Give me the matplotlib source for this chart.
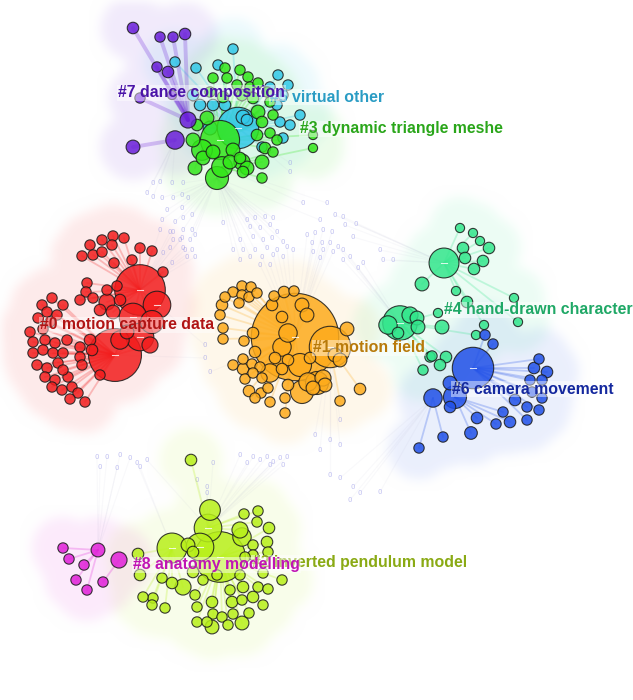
import numpy as np
import matplotlib
matplotlib.use("Agg")
import matplotlib.pyplot as plt
from matplotlib.patches import Circle

W, H = 633, 700

# -- cluster nodes: (x, y, radius) in canvas pixels -------------------------
nodes_0 = [  # motion capture data
    (140, 290, 22), (115, 355, 23), (157, 305, 12), (152, 322, 10), (133, 317, 12),
    (120, 340, 8), (140, 337, 12), (150, 345, 7), (107, 302, 7), (113, 312, 6),
    (90, 340, 5), (92, 350, 5), (127, 332, 6), (100, 310, 5), (120, 300, 5),
    (90, 245, 4.5), (102, 240, 4.5), (113, 236, 4.5), (124, 238, 4.5), (112, 245, 4.5),
    (82, 256, 4.5), (93, 255, 4.5), (102, 252, 4.5), (140, 248, 4.5), (152, 251, 4.5),
    (132, 260, 4.5), (114, 263, 4.5), (163, 272, 4.5), (87, 283, 4.5), (86, 292, 4.5),
    (107, 290, 4.5), (117, 286, 4.5), (80, 300, 4.5), (93, 298, 4.5), (52, 298, 4.5),
    (42, 305, 4.5), (63, 305, 4.5), (47, 312, 4.5), (57, 315, 4.5), (38, 318, 4.5),
    (50, 322, 4.5), (30, 332, 4.5), (43, 329, 4.5), (67, 340, 4.5), (33, 342, 4.5),
    (45, 340, 4.5), (55, 343, 4.5), (80, 347, 4.5), (33, 353, 4.5), (43, 350, 4.5),
    (53, 353, 4.5), (63, 353, 4.5), (80, 357, 4.5), (37, 365, 4.5), (47, 368, 4.5),
    (58, 363, 4.5), (82, 365, 4.5), (45, 377, 4.5), (55, 380, 4.5), (68, 377, 4.5),
    (63, 370, 4.5), (52, 387, 4.5), (62, 390, 4.5), (72, 387, 4.5), (78, 393, 4.5),
    (70, 399, 4.5), (85, 402, 4.5), (100, 375, 4.5),
]
nodes_1 = [  # motion field
    (295, 337, 38), (330, 347, 18), (302, 392, 10), (300, 365, 10), (270, 373, 8),
    (317, 383, 10), (282, 347, 8), (288, 333, 8), (308, 382, 8), (323, 378, 7),
    (335, 355, 6), (242, 286, 4.5), (251, 287, 4.5), (233, 292, 4.5), (225, 297, 4.5),
    (242, 295, 4.5), (249, 297, 4.5), (257, 293, 4.5), (239, 303, 4.5), (222, 305, 5),
    (220, 315, 4.5), (272, 305, 5), (274, 296, 4.5), (284, 292, 5), (294, 291, 4.5),
    (302, 305, 6), (307, 315, 6), (282, 317, 5), (223, 328, 4.5), (223, 339, 4.5),
    (253, 333, 5), (244, 341, 4.5), (347, 329, 6), (255, 352, 5), (243, 359, 4.5),
    (233, 365, 4.5), (243, 369, 5), (252, 364, 4.5), (260, 367, 4.5), (245, 379, 4.5),
    (253, 373, 4.5), (262, 378, 4.5), (275, 358, 5), (288, 360, 5), (282, 369, 5),
    (310, 358, 5), (340, 360, 6), (249, 391, 5), (261, 393, 4.5), (268, 388, 4.5),
    (255, 398, 4.5), (270, 402, 4.5), (285, 398, 4.5), (288, 385, 5), (325, 385, 6),
    (360, 389, 5), (340, 401, 4.5), (285, 413, 4.5), (313, 388, 6),
]
nodes_5 = [  # virtual other
    (238, 128, 18), (233, 49, 4.5), (196, 68, 4.5), (218, 65, 4.5), (175, 62, 4.5),
    (278, 75, 4.5), (288, 85, 4.5), (270, 87, 4.5), (283, 95, 4.5), (277, 105, 4.5),
    (300, 115, 4.5), (280, 122, 4.5), (290, 125, 4.5), (283, 138, 4.5), (262, 147, 4.5),
    (193, 95, 5), (200, 105, 5), (213, 105, 5), (225, 105, 5), (243, 117, 6),
    (247, 120, 5), (210, 128, 6),
]
nodes_3 = [  # dynamic triangle meshe
    (220, 140, 17), (217, 178, 10), (222, 167, 9), (202, 150, 9), (242, 162, 7),
    (247, 168, 6), (262, 162, 6), (195, 168, 6), (207, 118, 6), (258, 112, 6),
    (233, 150, 6), (225, 68, 4.5), (240, 70, 4.5), (213, 78, 4.5), (227, 78, 4.5),
    (248, 77, 4.5), (237, 85, 4.5), (250, 87, 4.5), (258, 83, 4.5), (267, 92, 4.5),
    (210, 92, 4.5), (223, 97, 5), (242, 95, 5), (253, 98, 5), (270, 102, 4.5),
    (273, 115, 4.5), (262, 122, 5), (270, 133, 4.5), (277, 140, 4.5), (257, 135, 5),
    (265, 148, 5), (273, 152, 4.5), (197, 125, 5), (193, 140, 6), (203, 158, 6),
    (213, 152, 6), (230, 162, 6), (240, 158, 5), (243, 172, 5), (262, 178, 4.5),
    (313, 148, 4), (313, 135, 4),
]
nodes_7 = [  # dance composition
    (188, 120, 7), (175, 140, 8), (133, 147, 6), (133, 28, 5), (160, 37, 4.5),
    (173, 37, 4.5), (185, 34, 5), (157, 67, 4.5), (168, 72, 5), (140, 98, 4.5),
    (172, 95, 4),
]
nodes_4 = [  # hand-drawn character
    (444, 263, 13), (400, 323, 15), (388, 325, 8), (417, 318, 6), (418, 327, 6),
    (398, 333, 5), (410, 315, 7), (422, 284, 6), (442, 327, 6), (460, 228, 4),
    (473, 233, 4), (480, 241, 4), (489, 248, 5), (463, 248, 5), (465, 258, 5),
    (483, 261, 5), (474, 269, 5), (456, 291, 4), (514, 298, 4), (467, 302, 5),
    (438, 313, 4), (518, 322, 4), (484, 325, 4), (476, 335, 4), (430, 357, 4.5),
    (446, 357, 5), (440, 365, 5), (423, 370, 4.5), (432, 356, 4.5),
]
nodes_6 = [  # camera movement
    (473, 368, 18), (433, 398, 8), (455, 397, 10), (450, 383, 6), (450, 407, 5),
    (485, 335, 4.5), (493, 344, 4.5), (539, 359, 4.5), (534, 368, 5), (547, 372, 5),
    (530, 380, 4.5), (542, 380, 4.5), (532, 392, 4.5), (542, 398, 4.5), (515, 400, 5),
    (527, 407, 4.5), (539, 410, 4.5), (503, 412, 4.5), (510, 422, 5), (527, 420, 4.5),
    (496, 424, 4.5), (477, 418, 5), (471, 433, 5.5), (443, 437, 4.5), (419, 448, 4.5),
]
nodes_2 = [  # inverted pendulum model
    (220, 557, 22), (172, 548, 13), (208, 528, 12), (200, 547, 12), (210, 510, 9),
    (240, 530, 7), (242, 537, 8), (188, 545, 6), (193, 552, 5), (183, 587, 7),
    (191, 460, 5), (244, 514, 4.5), (258, 511, 4.5), (257, 522, 4.5), (269, 528, 5),
    (267, 542, 5), (253, 545, 4.5), (268, 552, 4.5), (253, 555, 4.5), (245, 557, 4.5),
    (138, 554, 5), (140, 575, 5), (162, 578, 4.5), (172, 583, 5), (193, 572, 5),
    (203, 580, 4.5), (217, 575, 4.5), (240, 575, 4.5), (263, 573, 4.5), (282, 580, 4.5),
    (153, 598, 4.5), (143, 597, 4.5), (152, 605, 4.5), (165, 608, 4.5), (195, 595, 4.5),
    (212, 602, 5), (230, 590, 4.5), (243, 587, 5), (258, 587, 4.5), (268, 589, 4.5),
    (253, 597, 5), (232, 602, 5), (242, 600, 4.5), (263, 605, 4.5), (197, 607, 4.5),
    (213, 614, 4.5), (222, 617, 4.5), (233, 614, 4.5), (249, 613, 4.5), (197, 622, 4.5),
    (207, 622, 4.5), (212, 627, 6), (228, 625, 4.5), (242, 623, 6),
]
nodes_8 = [  # anatomy modelling
    (63, 548, 4.5), (98, 550, 6), (119, 560, 7), (69, 559, 4.5), (84, 565, 4.5),
    (76, 580, 4.5), (103, 582, 4.5), (87, 590, 4.5),
]

# -- unclustered background nodes (drawn as faint "0" labels) ---------------
bg_x = [153, 160, 172, 183, 147, 153, 162, 173, 182, 188, 167, 182, 162, 175, 183,
        192, 160, 173, 183, 192, 173, 182, 190, 170, 183, 192, 187, 195, 172, 163,
        247, 255, 265, 273, 250, 260, 270, 277, 240, 253, 263, 272, 283, 233, 243,
        255, 267, 277, 287, 293, 250, 262, 273, 283, 260, 270, 240, 223,
        307, 315, 323, 332, 312, 322, 330, 338, 313, 323, 333, 343, 320, 350, 353,
        343, 327, 303, 356, 358, 343, 380, 383, 363, 393, 290, 290,
        97, 107, 120, 130, 137, 147, 100, 117, 140, 240, 253, 260, 267, 273, 280,
        287, 247, 270, 283, 213, 330, 340, 353, 360, 380, 350, 197, 207, 207,
        170, 180, 195, 185, 205, 205, 210, 320, 335, 345, 315, 330, 320, 340, 340]
bg_y = [183, 182, 183, 183, 193, 197, 198, 198, 195, 198, 210, 208, 220, 222, 218,
        215, 230, 232, 230, 230, 240, 238, 240, 248, 248, 250, 257, 257, 263, 253,
        220, 218, 217, 218, 227, 228, 225, 232, 240, 237, 240, 238, 242, 250, 250,
        250, 248, 250, 247, 250, 257, 257, 255, 257, 265, 265, 260, 223,
        235, 233, 230, 232, 243, 243, 243, 247, 252, 250, 252, 250, 258, 257, 237,
        217, 203, 203, 224, 268, 260, 250, 260, 263, 260, 163, 172,
        457, 457, 455, 458, 463, 460, 467, 468, 467, 455, 457, 460, 457, 462, 458,
        457, 463, 465, 465, 463, 475, 478, 487, 493, 492, 500, 480, 487, 493,
        232, 240, 235, 250, 345, 358, 372, 220, 215, 225, 435, 440, 450, 445, 420]

colors = {
    0: "#f21d1d", 1: "#fdab1c", 2: "#b8f01a", 3: "#33e61a", 4: "#33e68c",
    5: "#33c8e8", 6: "#2050e8", 7: "#6a1fd8", 8: "#e020d8",
}
label_colors = {
    0: "#b01414", 1: "#b87a0a", 2: "#8aaa14", 3: "#2aa61a", 4: "#1fa866",
    5: "#2a9cc4", 6: "#14289e", 7: "#4a14a8", 8: "#c014b4",
}
labels = {
    0: "#0 motion capture data", 1: "#1 motion field", 2: "#2 inverted pendulum model",
    3: "#3 dynamic triangle meshe", 4: "#4 hand-drawn character", 5: "#5 virtual other",
    6: "#6 camera movement", 7: "#7 dance composition", 8: "#8 anatomy modelling",
}
label_pos = {
    0: (40, 325), 1: (313, 348), 2: (252, 563), 3: (300, 129), 4: (444, 310),
    5: (270, 97), 6: (452, 389), 7: (118, 93), 8: (133, 565),
}
clusters = {0: nodes_0, 1: nodes_1, 5: nodes_5, 3: nodes_3, 7: nodes_7,
            4: nodes_4, 6: nodes_6, 2: nodes_2, 8: nodes_8}
hub_min = {0: 20, 1: 17, 2: 11, 3: 9, 4: 12, 5: 17, 6: 7, 7: 7, 8: 6}
node_scale = 1.15


def blur(a, k):
    kern = np.ones(2 * k + 1) / (2 * k + 1)
    for _ in range(2):
        a = np.apply_along_axis(lambda v: np.convolve(v, kern, mode="same"), 0, a)
        a = np.apply_along_axis(lambda v: np.convolve(v, kern, mode="same"), 1, a)
    return a


# -- soft cluster areas (union of padded discs) ------------------------------
yy, xx = np.mgrid[0:H, 0:W] + 0.5
img = np.ones((H, W, 3))
pad = 27
for cid in [0, 1, 5, 3, 7, 4, 6, 2, 8]:
    mask = np.zeros((H, W))
    for x, y, r in clusters[cid]:
        rr = r + pad
        x0, x1 = max(int(x - rr), 0), min(int(x + rr) + 2, W)
        y0, y1 = max(int(y - rr), 0), min(int(y + rr) + 2, H)
        d = np.hypot(xx[y0:y1, x0:x1] - x, yy[y0:y1, x0:x1] - y)
        mask[y0:y1, x0:x1] = np.maximum(mask[y0:y1, x0:x1], (d <= rr).astype(float))
    mask = blur(mask, 6)
    rgb = np.array(matplotlib.colors.to_rgb(colors[cid]))
    a = (0.09 * mask)[..., None]
    img = img * (1 - a) + rgb * a

fig = plt.figure(figsize=(W / 100, H / 100), dpi=100)
ax = fig.add_axes([0, 0, 1, 1])
ax.set_xlim(0, W)
ax.set_ylim(H, 0)
ax.axis("off")
ax.imshow(img, extent=(0, W, H, 0), zorder=0, interpolation="bilinear")

# faint links from the unclustered nodes toward the nearest hub
all_hubs = [(x, y) for cid in clusters for x, y, r in clusters[cid] if r >= hub_min[cid]]
hx = np.array([h[0] for h in all_hubs])
hy = np.array([h[1] for h in all_hubs])
for x, y in zip(bg_x, bg_y):
    j = np.argmin(np.hypot(hx - x, hy - y))
    ax.plot([x, hx[j]], [y, hy[j]], color=(0.6, 0.6, 0.75), alpha=0.06, lw=0.8, zorder=1)
for x, y in zip(bg_x, bg_y):
    ax.text(x, y, "0", fontsize=5, color=(0.55, 0.55, 0.9), alpha=0.55,
            ha="center", va="center", zorder=1.5)

# intra-cluster links to hubs
for cid, nodes in clusters.items():
    hubs = [(x, y) for x, y, r in nodes if r >= hub_min[cid]]
    lw = 2.8 if cid == 7 else 1.3
    for x, y, r in nodes:
        if r >= hub_min[cid]:
            continue
        d = [np.hypot(x - a, y - b) for a, b in hubs]
        a, b = hubs[int(np.argmin(d))]
        ax.plot([x, a], [y, b], color=colors[cid], alpha=0.25, lw=lw,
                solid_capstyle="round", zorder=2)

# nodes
for cid in [0, 1, 5, 3, 7, 4, 6, 2, 8]:
    for x, y, r in sorted(clusters[cid], key=lambda n: -n[2]):
        ax.add_patch(Circle((x, y), r * node_scale, facecolor=colors[cid],
                            edgecolor="#1a1a1a", lw=0.8, alpha=0.85, zorder=3))
        if r >= 12:
            ax.plot([x - 3, x + 3], [y, y], color="white", lw=0.8, alpha=0.8, zorder=3.1)

# cluster labels
for cid in [5, 2, 0, 1, 3, 4, 6, 7, 8]:
    x, y = label_pos[cid]
    ax.text(x, y, labels[cid], color=label_colors[cid], fontsize=11.4,
            fontweight="bold", family="Liberation Sans", ha="left", va="center",
            zorder=5,
            bbox=dict(boxstyle="square,pad=0.05", facecolor="white", alpha=0.45,
                      edgecolor="none"))

fig.savefig("out.png", dpi=100)
